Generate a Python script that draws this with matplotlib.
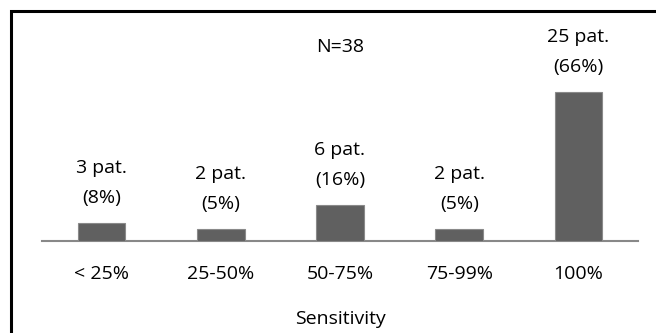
import matplotlib.pyplot as plt
from matplotlib.patches import Rectangle

plt.rcParams["font.family"] = ["Open Sans", "DejaVu Sans"]

categories = ["< 25%", "25-50%", "50-75%", "75-99%", "100%"]
patients = [3, 2, 6, 2, 25]
percents = [8, 5, 16, 5, 66]
total_n = 38

BAR_COLOR = "#606060"
EDGE_COLOR = "#8a8a8a"
AXIS_COLOR = "#888888"
FS = 14

W, H, DPI = 656, 333, 100
fig = plt.figure(figsize=(W / DPI, H / DPI), dpi=DPI)

# axes placed in pixel terms: baseline at y=241, x span 42..638
px_per_unit = 149 / 25
ymax = 37
ax_h = ymax * px_per_unit
ax = fig.add_axes([42 / W, (H - 241) / H, (638 - 42) / W, ax_h / H])

x = range(len(categories))
ax.bar(x, patients, width=0.4, color=BAR_COLOR, edgecolor=EDGE_COLOR, linewidth=0.8, zorder=3)
ax.set_xlim(-0.5, len(categories) - 0.5)
ax.set_ylim(0, ymax)

for i, (n, p) in enumerate(zip(patients, percents)):
    ax.annotate(f"({p}%)", (i, n), xytext=(0, 25), textcoords="offset pixels",
                ha="center", va="center", fontsize=FS)
    ax.annotate(f"{n} pat.", (i, n), xytext=(0, 55), textcoords="offset pixels",
                ha="center", va="center", fontsize=FS)

ax.text(2, ymax - (47 - (241 - ax_h)) / px_per_unit, f"N={total_n}",
        ha="center", va="center", fontsize=FS)

for side in ["left", "right", "top"]:
    ax.spines[side].set_visible(False)
ax.spines["bottom"].set_color(AXIS_COLOR)
ax.spines["bottom"].set_linewidth(1.5)
ax.set_yticks([])
ax.set_xticks(list(x))
ax.set_xticklabels(categories, fontsize=FS)
ax.tick_params(axis="x", length=0, pad=17)
ax.set_xlabel("Sensitivity", fontsize=FS, labelpad=20)

# outer frame, running off the right and bottom edges
frame = Rectangle((11 / W, -0.1), 1.2, 1.1 - 11.5 / H, transform=fig.transFigure,
                  fill=False, edgecolor="black", linewidth=2.2, clip_on=False)
fig.add_artist(frame)

fig.savefig("out.png", dpi=DPI, facecolor="white")
